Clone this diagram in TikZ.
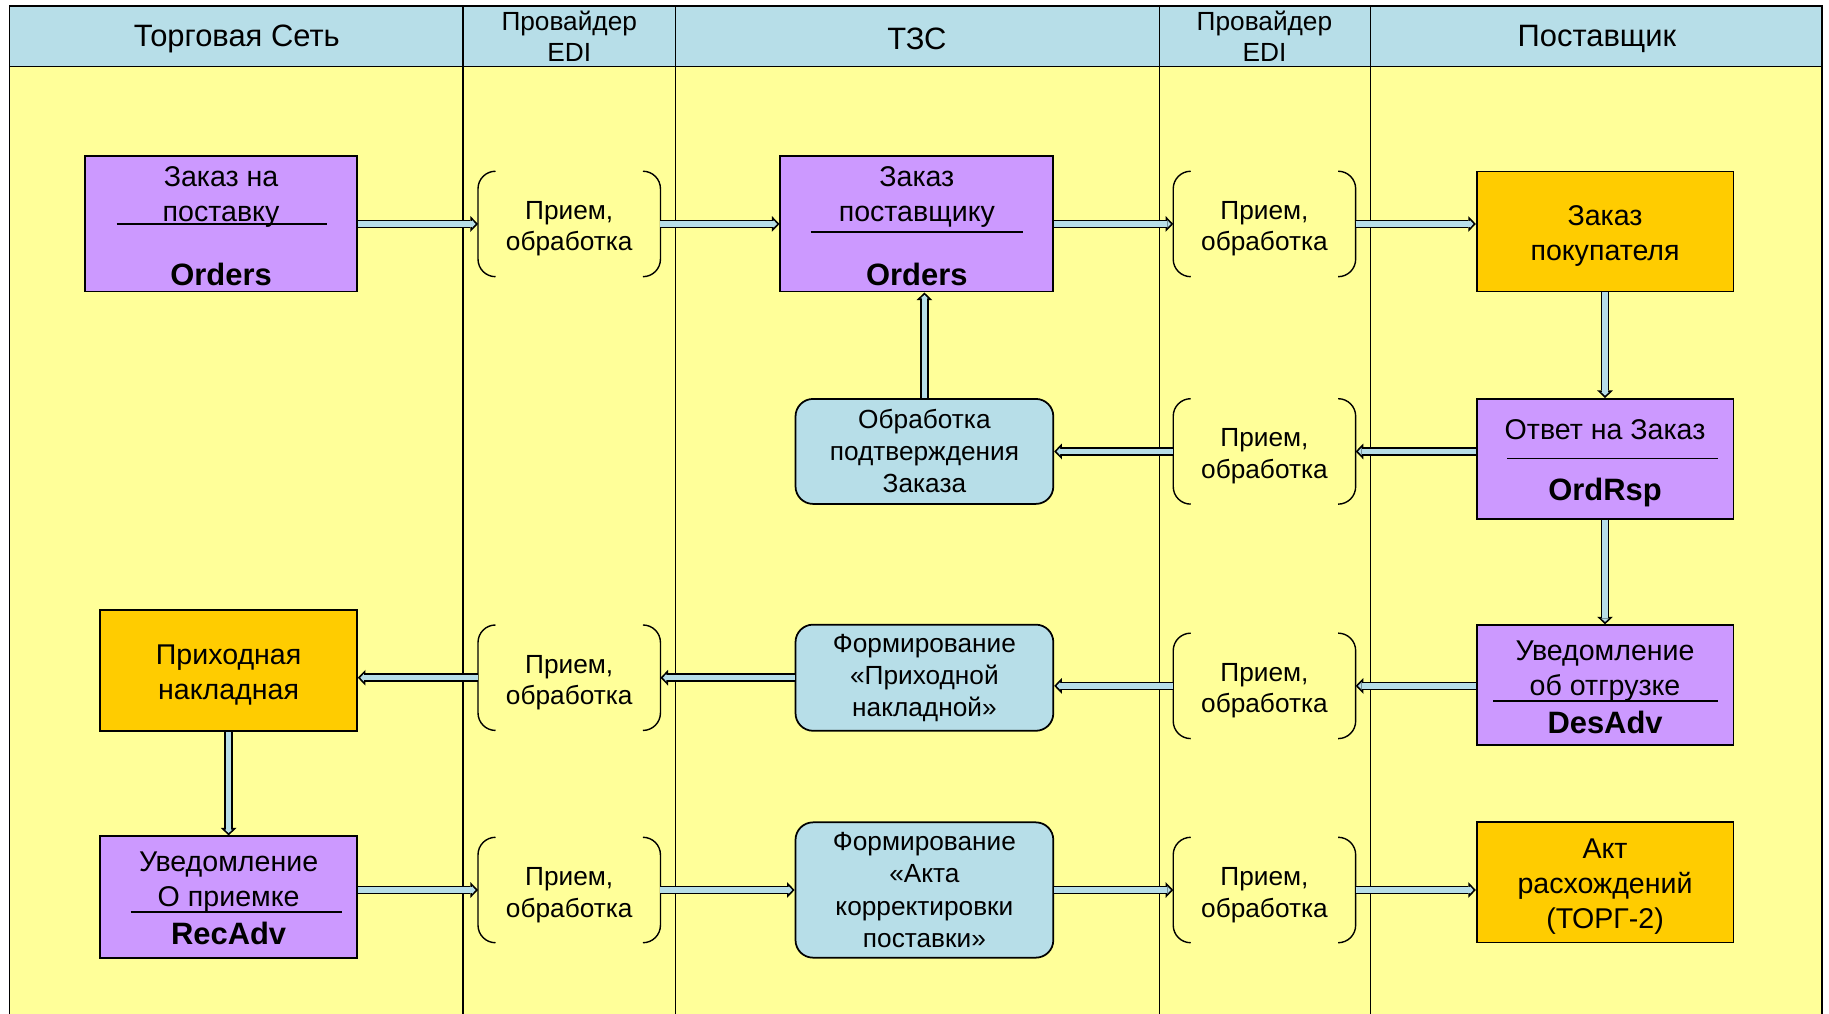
\documentclass[tikz,border=0pt]{standalone}
\usepackage{fontspec}
\setmainfont{Liberation Sans}
\usetikzlibrary{arrows.meta}
\definecolor{headblue}{RGB}{183,222,232}
\definecolor{laneyellow}{RGB}{255,255,153}
\definecolor{msgpurple}{RGB}{204,153,255}
\definecolor{docorange}{RGB}{255,204,0}
\newcommand\lift{\rule{0pt}{24.5pt}}

\begin{document}
\begin{tikzpicture}[x=1pt,y=-1pt,
  lane/.style={line width=1.2pt},
  head/.style={font=\fontsize{26.5}{30}\selectfont},
  headsmall/.style={align=center,font=\fontsize{22.5}{26}\selectfont},
  msg/.style={rectangle,draw,line width=1.5pt,fill=msgpurple,minimum width=220,minimum height=103},
  doc/.style={rectangle,draw,line width=1.5pt,fill=docorange,minimum width=220,minimum height=103,align=center,font=\fontsize{24.5}{30}\selectfont},
  proc/.style={rectangle,rounded corners=15,draw,line width=1.5pt,fill=headblue,minimum width=221,minimum height=91,align=center,font=\fontsize{22.5}{27.5}\selectfont},
  recv/.style={minimum width=156,minimum height=90,align=center,font=\fontsize{22.5}{27}\selectfont,text height=51pt},
  title/.style={align=center,font=\fontsize{24.5}{30}\selectfont},
  code/.style={font=\fontsize{26.5}{30}\selectfont\bfseries},
  flow/.style={draw=headblue,line width=4.5pt,shorten >=2.1pt,-{Triangle[length=3pt,width=6.5pt,line width=0pt]},
    preaction={draw=black,line width=7.5pt,shorten >=0pt,-{Triangle[length=6.5pt,width=13.5pt,line width=0pt]}}}]
\def\rowA{192}
\def\rowB{387}
\def\rowC{581}
\def\rowD{763}
\useasboundingbox (0,0) rectangle (1568,869);
% lanes
\fill[laneyellow] (8,57) rectangle (1562,869);
\fill[headblue] (8,5) rectangle (1562,57);
\draw[lane] (8,869) -- (8,5) -- (1562,5) -- (1562,869);
\draw[lane] (8,57) -- (1562,57);
\foreach \x in {397,579,994,1175}
  \draw[lane] (\x,5) -- (\x,869);
\path
(203,33) node [head] (h1) {Торговая Сеть}
(488,31) node [headsmall] (h2) {Провайдер\\EDI}
(786,33) node [head] (h3) {ТЗС}
(1084,31) node [headsmall] (h4) {Провайдер\\EDI}
(1369,33) node [head] (h5) {Поставщик}
;

% messages
\node[msg,minimum width=233,minimum height=116] (ord1) at (189.5,\rowA) {};
\node[title] (ord1t) at (189.5,169) {Заказ на\\поставку};
\node[code] (ord1c) at (189.5,235) {Orders};
\draw[line width=1.2pt] (100,192) -- (280,192);

\node[msg,minimum width=234,minimum height=116] (ord2) at (786,\rowA) {};
\node[title] (ord2t) at (786,169) {Заказ\\поставщику};
\node[code] (ord2c) at (786,235) {Orders};
\draw[line width=1.2pt] (695,199) -- (877,199);

\node[msg] (ordrsp) at (1376,393.5) {};
\node[title] (ordrspt) at (1376,368) {Ответ на Заказ};
\node[code] (ordrspc) at (1376,422) {OrdRsp};
\draw[line width=1.2pt] (1292,393) -- (1473,393);

\node[msg] (desadv) at (1376,587.5) {};
\node[title] (desadvt) at (1376,575) {Уведомление\\об отгрузке};
\node[code] (desadvc) at (1376,619) {DesAdv};
\draw[line width=1.2pt] (1280,601) -- (1473,601);

\node[msg,minimum height=104] (recadv) at (196,769) {};
\node[title] (recadvt) at (196,756) {Уведомление\\О приемке};
\node[code] (recadvc) at (196,800) {RecAdv};
\draw[line width=1.2pt] (112,782) -- (293,782);

% documents and processing
\node[doc] (zakpok) at (1376,198.5) {\lift Заказ\\покупателя};
\node[doc,minimum height=104] (prihod) at (196,575) {\lift Приходная\\накладная};
\node[doc] (akt) at (1376,756.5) {\lift Акт\\расхождений\\(ТОРГ-2)};
\node[proc,minimum height=90] (obrab) at (792.5,\rowB) {Обработка\\подтверждения\\Заказа};
\node[proc] (form1) at (792.5,\rowC) {Формирование\\«Приходной\\накладной»};
\node[proc,minimum height=116] (form2) at (792.5,\rowD) {Формирование\\«Акта\\корректировки\\поставки»};

% provider EDI
\path
(488,\rowA) node [recv] (p1) {Прием,\\обработка}
(1084,\rowA) node [recv] (p2) {Прием,\\обработка}
(1084,\rowB) node [recv] (p3) {Прием,\\обработка}
(488,\rowC) node [recv] (p4) {Прием,\\обработка}
(1084,588) node [recv] (p5) {Прием,\\обработка}
(488,\rowD) node [recv] (p6) {Прием,\\обработка}
(1084,\rowD) node [recv] (p7) {Прием,\\обработка}
;
\foreach \n in {p1,p2,p3,p4,p5,p6,p7} {
  \draw[line width=1.2pt,rounded corners=15] ([xshift=15]\n.north west) -- (\n.north west) -- (\n.south west) -- ([xshift=15]\n.south west);
  \draw[line width=1.2pt,rounded corners=15] ([xshift=-15]\n.north east) -- (\n.north east) -- (\n.south east) -- ([xshift=-15]\n.south east);
}

% flows
\draw[flow] (ord1) -- (p1);
\draw[flow] (p1) -- (ord2);
\draw[flow] (ord2) -- (p2);
\draw[flow] (p2.east) -- (p2.east -| zakpok.west);
\draw[flow] (zakpok) -- (ordrsp);
\draw[flow] (ordrsp.west |- p3.east) -- (p3.east);
\draw[flow] (p3) -- (obrab);
\draw[flow] (obrab.north) -- (obrab.north |- ord2.south);
\draw[flow] (ordrsp) -- (desadv);
\draw[flow] (desadv.west |- p5.east) -- (p5.east);
\draw[flow] (p5.west) -- (p5.west -| form1.east);
\draw[flow] (form1) -- (p4);
\draw[flow] (p4.west) -- (p4.west -| prihod.east);
\draw[flow] (prihod) -- (recadv);
\draw[flow] (recadv.east |- p6.west) -- (p6.west);
\draw[flow] (p6) -- (form2);
\draw[flow] (form2) -- (p7);
\draw[flow] (p7.east) -- (p7.east -| akt.west);
\end{tikzpicture}
\end{document}
